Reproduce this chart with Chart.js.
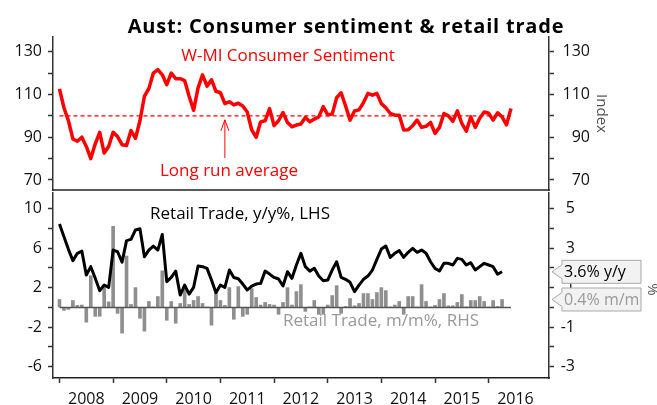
<!DOCTYPE html>
<html>
<head>
<meta charset="utf-8">
<script src="https://cdn.jsdelivr.net/npm/chart.js@4.4.0/dist/chart.umd.min.js"></script>
<style>
  html, body { margin: 0; padding: 0; background: #fff; }
  #wrap { position: relative; width: 657px; height: 405px; overflow: hidden; }
  canvas { position: absolute; left: 0; }
  #topChart { top: 0; }
  #botChart { top: 190px; }
</style>
</head>
<body>
<div id="wrap">
  <canvas id="topChart" width="657" height="192"></canvas>
  <canvas id="botChart" width="657" height="215"></canvas>
</div>
<script>
// monthly data, first point = Jan 2008
const sentiment = [
  112.6, 103.8, 97.7, 89.2, 88.1, 90.0, 85.7, 80.0, 86.9, 92.3,
  82.6, 85.7, 92.3, 90.3, 86.5, 86.1, 93.1, 89.5, 97.7, 109.2,
  112.8, 120.0, 121.6, 119.2, 114.6, 120.0, 117.4, 117.4, 116.5, 109.2,
  102.6, 113.1, 119.2, 113.9, 116.9, 111.5, 110.8, 105.7, 106.6, 105.1,
  105.9, 104.6, 101.8, 93.4, 90.0, 97.2, 97.7, 103.4, 95.4, 97.7,
  101.5, 96.9, 94.9, 95.7, 96.2, 99.2, 97.2, 98.5, 99.5, 104.3,
  100.5, 100.8, 108.5, 110.8, 104.6, 98.0, 102.3, 102.8, 106.2, 110.5,
  109.7, 110.5, 105.7, 103.8, 101.1, 100.3, 100.3, 93.4, 93.5, 95.4,
  98.0, 94.6, 95.1, 96.9, 91.8, 94.6, 101.1, 100.0, 97.4, 102.3,
  96.5, 92.8, 99.5, 94.6, 98.9, 101.8, 101.2, 98.0, 101.4, 99.5,
  95.8, 103.4
];
const longRunAvg = [100, 100];
const avgMonths = [0, 101];

const retailYoY = [
  8.43, 7.15, 5.87, 4.73, 5.47, 5.70, 3.27, 4.12, 2.94, 1.69,
  2.26, 2.03, 5.80, 5.63, 4.58, 6.75, 6.88, 7.83, 7.96, 5.13,
  5.80, 6.20, 5.80, 7.38, 2.60, 3.03, 3.67, 1.25, 2.26, 1.35,
  2.03, 4.19, 4.12, 3.95, 2.77, 1.49, 2.26, 2.03, 3.78, 3.03,
  2.90, 2.36, 1.76, 2.16, 2.36, 2.43, 3.67, 3.37, 3.03, 2.87,
  2.16, 3.61, 2.94, 4.29, 5.47, 4.12, 3.67, 3.95, 3.17, 2.70,
  2.77, 3.78, 4.62, 3.04, 2.84, 2.54, 1.59, 2.26, 2.84, 3.17,
  3.78, 4.86, 5.90, 6.21, 5.06, 5.47, 5.74, 5.06, 5.57, 5.97,
  5.57, 5.80, 5.47, 4.62, 3.95, 3.68, 4.46, 4.46, 4.29, 4.96,
  4.86, 4.29, 4.52, 3.78, 4.12, 4.46, 4.29, 4.12, 3.35, 3.6
];
const retailMoM = [
  0.40, -0.15, -0.10, 0.35, 0.10, 0.12, -0.75, 1.60, -0.45, -0.45,
  1.00, 0.28, 4.10, -0.30, -1.30, 2.60, 0.15, 1.00, -0.55, -1.20,
  0.30, 0.02, 0.55, 1.85, -0.65, 0.30, -0.80, 0.20, 1.10, 0.15,
  0.35, 0.55, 0.20, 0.02, -0.90, 0.70, 0.35, 0.10, 1.00, -0.60,
  1.05, -0.45, -0.35, 0.95, 0.50, 0.12, 0.25, 0.15, 0.12, -0.35,
  0.25, 1.00, 0.12, 0.80, 1.15, -0.20, 0.02, 0.35, -0.35, -0.35,
  0.12, 0.60, 1.10, -0.30, 0.05, 0.45, 0.08, 0.20, 0.70, 0.70,
  0.40, 0.75, 1.00, 0.85, 0.02, 0.12, 0.30, -0.35, 0.55, 0.55,
  0.02, 1.15, 0.30, 0.02, 0.10, 0.40, 0.70, 0.08, 0.08, 0.25,
  0.65, 0.02, 0.35, 0.35, 0.55, 0.30, 0.02, 0.35, 0.05, 0.40
];
const zeroLine = [0, 0];
const zeroMonths = [0, 101];

const yearLabels = ['2008', '2009', '2010', '2011', '2012', '2013', '2014', '2015', '2016'];
const sentTicks = [70, 80, 90, 100, 110, 120, 130];
const sentLabels = [70, 90, 110, 130];
const lhsTicks = [-6, -4, -2, 0, 2, 4, 6, 8, 10];
const lhsLabels = [-6, -2, 2, 6, 10];
const rhsTicks = [-3, -2, -1, 0, 1, 2, 3, 4, 5];
const rhsLabels = [-3, -1, 1, 3, 5];

const TITLE = 'Aust: Consumer sentiment & retail trade';
const RED = '#ff0000';
const FONT = '"Open Sans", "DejaVu Sans", sans-serif';
const X_MIN = -1.45, X_MAX = 109.5;

const pts = (arr, months) => arr.map((v, i) => ({ x: months ? months[i] : i, y: v }));

function yAxis(pos, min, max, ticks, labels, width) {
  return {
    position: pos, min: min, max: max,
    afterBuildTicks: s => { s.ticks = ticks.map(v => ({ value: v })); },
    afterFit: s => { s.width = width; s.paddingTop = 0; s.paddingBottom = 0; },
    ticks: {
      font: { family: FONT, size: 16 }, color: '#111', padding: 6,
      crossAlign: pos === 'right' ? 'far' : 'near',
      callback: v => labels.includes(v) ? String(v) : ''
    },
    grid: { drawOnChartArea: false, drawTicks: true, tickLength: 5, tickColor: '#333', tickWidth: 1.5 },
    border: { color: '#333', width: 1.5 }
  };
}

// rotated axis caption, reads top to bottom
function sideTitle(ctx, text, x, y) {
  ctx.save();
  ctx.translate(x, y);
  ctx.rotate(Math.PI / 2);
  ctx.fillStyle = '#555';
  ctx.font = '15px ' + FONT;
  ctx.textAlign = 'center';
  ctx.textBaseline = 'middle';
  ctx.fillText(text, 0, 0);
  ctx.restore();
}

const topChart = new Chart(document.getElementById('topChart'), {
  type: 'line',
  data: {
    datasets: [
      { data: pts(sentiment), borderColor: RED, borderWidth: 3.5, pointRadius: 0, tension: 0,
        borderJoinStyle: 'round', yAxisID: 'yL', order: 1 },
      { data: pts(longRunAvg, avgMonths), borderColor: RED, borderWidth: 1.3, borderDash: [4, 3],
        pointRadius: 0, yAxisID: 'yL', order: 2 }
    ]
  },
  options: {
    responsive: false, animation: false, events: [],
    layout: { autoPadding: false, padding: { top: 37, bottom: 2, left: 0, right: 67 } },
    plugins: { legend: { display: false }, tooltip: { enabled: false } },
    scales: {
      x: { type: 'linear', min: X_MIN, max: X_MAX, offset: false, display: false },
      yL: yAxis('left', 65.3, 136.9, sentTicks, sentLabels, 53),
      yR: yAxis('right', 65.3, 136.9, sentTicks, sentLabels, 41)
    }
  },
  plugins: [{
    id: 'topNotes',
    afterDraw(chart) {
      const { ctx, chartArea, scales: { x, yL } } = chart;
      ctx.save();
      ctx.clearRect(0, chartArea.bottom - 2, chartArea.left - 1, 6);
      // bottom frame of the upper panel
      ctx.strokeStyle = '#222';
      ctx.lineWidth = 1.5;
      ctx.beginPath();
      ctx.moveTo(chartArea.left - 0.75, chartArea.bottom);
      ctx.lineTo(chartArea.right + 0.75, chartArea.bottom);
      ctx.stroke();

      ctx.fillStyle = '#000';
      ctx.textAlign = 'center';
      ctx.textBaseline = 'alphabetic';
      ctx.font = 'bold 20px ' + FONT;
      ctx.letterSpacing = '0.8px';
      ctx.fillText(TITLE, 346, 33);
      ctx.letterSpacing = '0px';
      ctx.textBaseline = 'middle';
      ctx.fillStyle = RED;
      ctx.font = '17px ' + FONT;
      ctx.fillText('W-MI Consumer Sentiment', 288, 56);
      ctx.fillText('Long run average', 229, 171);
      // arrow up to the long run average
      const ax = x.getPixelForValue(37);
      const ay = yL.getPixelForValue(longRunAvg[0]) + 4;
      ctx.strokeStyle = RED;
      ctx.lineWidth = 1;
      ctx.beginPath();
      ctx.moveTo(ax, 158); ctx.lineTo(ax, ay);
      ctx.moveTo(ax - 4, ay + 11); ctx.lineTo(ax, ay); ctx.lineTo(ax + 4, ay + 11);
      ctx.stroke();
      ctx.restore();
      sideTitle(ctx, 'Index', 601, (chartArea.top + chartArea.bottom) / 2);
    }
  }]
});

function callout(ctx, tipX, tipY, text, color) {
  const left = tipX + 10, right = 641, h = 23, top = tipY - h / 2;
  ctx.beginPath();
  ctx.moveTo(left, top); ctx.lineTo(right, top); ctx.lineTo(right, top + h); ctx.lineTo(left, top + h);
  ctx.lineTo(left, tipY + 7); ctx.lineTo(tipX, tipY); ctx.lineTo(left, tipY - 7);
  ctx.closePath();
  ctx.fillStyle = '#f2f2f2';
  ctx.fill();
  ctx.strokeStyle = '#a8a8a8';
  ctx.lineWidth = 1;
  ctx.stroke();
  ctx.fillStyle = color;
  ctx.textAlign = 'left';
  ctx.textBaseline = 'middle';
  ctx.font = '16px ' + FONT;
  ctx.fillText(text, left + 2, tipY + 1);
}

const botChart = new Chart(document.getElementById('botChart'), {
  type: 'line',
  data: {
    datasets: [
      { type: 'line', data: pts(zeroLine, zeroMonths), borderColor: '#555', borderWidth: 1.5,
        pointRadius: 0, yAxisID: 'yR', order: 0 },
      { type: 'line', data: pts(retailYoY), borderColor: '#000', borderWidth: 3, pointRadius: 0,
        tension: 0, borderJoinStyle: 'round', yAxisID: 'yL', order: 1 },
      { type: 'bar', data: pts(retailMoM), backgroundColor: '#8f8f8f', barThickness: 3,
        yAxisID: 'yR', order: 2 }
    ]
  },
  options: {
    responsive: false, animation: false, events: [],
    layout: { autoPadding: false, padding: { top: 3, bottom: 0, left: 0, right: 82 } },
    plugins: { legend: { display: false }, tooltip: { enabled: false } },
    scales: {
      x: { type: 'linear', min: X_MIN, max: X_MAX, offset: false,
        afterBuildTicks: s => {
          const t = [];
          for (let m = 0; m <= 102; m += 6) t.push({ value: m });
          s.ticks = t;
        },
        afterFit: s => { s.height = 27; s.paddingLeft = 0; s.paddingRight = 0; },
        ticks: { autoSkip: false, maxRotation: 0, font: { family: FONT, size: 16 }, color: '#111', padding: 7,
          callback: v => v % 12 === 6 ? yearLabels[(v - 6) / 12] : '' },
        grid: { drawOnChartArea: false, drawTicks: true, tickLength: 5, offset: false, tickWidth: 1.5,
          tickColor: c => (c.tick && c.tick.value % 12 === 0) ? '#333' : 'rgba(0,0,0,0)' },
        border: { color: '#222', width: 1.5 } },
      yL: yAxis('left', -7.14, 11.57, lhsTicks, lhsLabels, 53),
      yR: yAxis('right', -3.57, 5.785, rhsTicks, rhsLabels, 26)
    }
  },
  plugins: [{
    id: 'botNotes',
    afterDraw(chart) {
      const { ctx, chartArea, scales: { yL, yR } } = chart;
      ctx.save();
      ctx.clearRect(0, 0, chartArea.left - 1, 2);
      ctx.textAlign = 'center';
      ctx.textBaseline = 'middle';
      ctx.font = '17px ' + FONT;
      ctx.fillStyle = '#000';
      ctx.fillText('Retail Trade, y/y%, LHS', 240, 24);
      ctx.fillStyle = '#999';
      ctx.fillText('Retail Trade, m/m%, RHS', 381, 131);
      const tipX = chartArea.right + 3;
      const lastYoY = retailYoY[retailYoY.length - 1];
      const lastMoM = retailMoM[retailMoM.length - 1];
      callout(ctx, tipX, yL.getPixelForValue(lastYoY), lastYoY.toFixed(1) + '% y/y', '#000');
      callout(ctx, tipX, yR.getPixelForValue(lastMoM), lastMoM.toFixed(1) + '% m/m', '#999');
      ctx.restore();
      sideTitle(ctx, '%', 652, (chartArea.top + chartArea.bottom) / 2 + 4);
    }
  }]
});
</script>
</body>
</html>
